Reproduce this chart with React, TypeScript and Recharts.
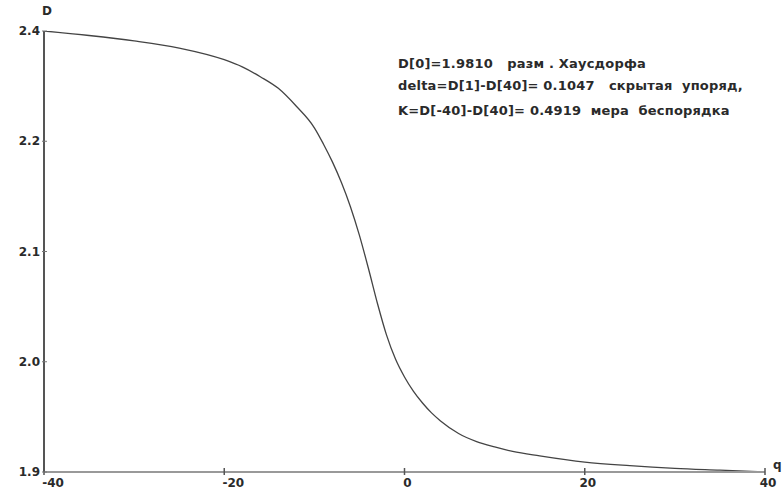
import { LineChart, Line, XAxis, YAxis } from 'recharts'

// q values and fractal dimension D(q)
const qValues = [
  -40, -35, -30, -25, -20, -18, -16, -14, -12, -10, -9, -8, -7, -6, -5, -4, -3,
  -2, -1, 0, 1, 2, 3, 4, 6, 8, 10, 12, 15, 20, 25, 30, 35, 40,
]
const dValues = [
  2.4, 2.395, 2.389, 2.381, 2.368, 2.36, 2.349, 2.336, 2.316, 2.292, 2.274,
  2.254, 2.231, 2.204, 2.172, 2.135, 2.096, 2.061, 2.034, 2.014, 1.998, 1.985,
  1.974, 1.965, 1.951, 1.942, 1.936, 1.931, 1.926, 1.919, 1.915, 1.912, 1.91,
  1.908,
]

const xTicks = [-40, -20, 0, 20, 40]
// the original program labels 5 evenly spaced ticks with truncated values
const yTicks = [1.908, 2.031, 2.154, 2.277, 2.4]
const yTickLabels = ['1.9', '2.0', '2.1', '2.2', '2.4']

const infoLines = [
  'D[0]=1.9810   разм . Хаусдорфа',
  'delta=D[1]-D[40]= 0.1047   скрытая  упоряд,',
  'K=D[-40]-D[40]= 0.4919  мера  беспорядка',
]

const FONT = '"DejaVu Sans", sans-serif'
const INK = '#2a2a2a'

const data = qValues.map((q, i) => ({ q, d: dValues[i] }))

function XTick(props: any) {
  const { x, y, payload } = props
  const v = payload.value as number
  return (
    <g>
      <line x1={x} x2={x} y1={y - 4} y2={y + 3} stroke="#555" strokeWidth={1.5} />
      <text
        x={x + (v < 0 ? 9 : 3)}
        y={y + 15}
        textAnchor="middle"
        fontFamily={FONT}
        fontWeight="bold"
        fontSize={12}
        fill={INK}
      >
        {v}
      </text>
    </g>
  )
}

function YTick(props: any) {
  const { x, y, payload, index } = props
  return (
    <g>
      <line x1={x - 2} x2={x + 3} y1={y} y2={y} stroke="#777" strokeWidth={1} />
      <text
        x={x - 4}
        y={y + 4}
        textAnchor="end"
        fontFamily={FONT}
        fontWeight="bold"
        fontSize={12}
        fill={INK}
      >
        {yTickLabels[index] ?? payload.value}
      </text>
    </g>
  )
}

export default function App() {
  return (
    <div style={{ position: 'absolute', left: 0, top: 0, width: 784, height: 491, background: '#fff' }}>
      <LineChart
        width={784}
        height={491}
        data={data}
        margin={{ top: 31, right: 19, bottom: 0, left: 4 }}
      >
        <XAxis
          dataKey="q"
          type="number"
          domain={[-40, 40]}
          ticks={xTicks}
          tick={<XTick />}
          tickSize={0}
          tickMargin={0}
          height={19}
          stroke="#999"
          strokeWidth={2}
          allowDataOverflow
        />
        <YAxis
          type="number"
          domain={[1.908, 2.4]}
          ticks={yTicks}
          tick={<YTick />}
          tickSize={0}
          tickMargin={0}
          width={40}
          stroke="#555"
          strokeWidth={2}
          allowDataOverflow
        />
        <Line
          dataKey="d"
          type="monotone"
          stroke="#444"
          strokeWidth={1.3}
          dot={false}
          isAnimationActive={false}
        />
      </LineChart>

      <div
        style={{
          position: 'absolute',
          left: 42,
          top: 4,
          fontFamily: FONT,
          fontWeight: 'bold',
          fontSize: 12,
          color: INK,
        }}
      >
        D
      </div>
      <div
        style={{
          position: 'absolute',
          left: 773,
          top: 458,
          fontFamily: FONT,
          fontWeight: 'bold',
          fontSize: 12,
          color: INK,
        }}
      >
        q
      </div>
      {infoLines.map((line, i) => (
        <div
          key={i}
          style={{
            position: 'absolute',
            left: 398,
            top: [56, 78, 103][i],
            fontFamily: FONT,
            fontWeight: 'bold',
            fontSize: 13,
            letterSpacing: 0.2,
            color: INK,
            whiteSpace: 'pre',
          }}
        >
          {line}
        </div>
      ))}
    </div>
  )
}
